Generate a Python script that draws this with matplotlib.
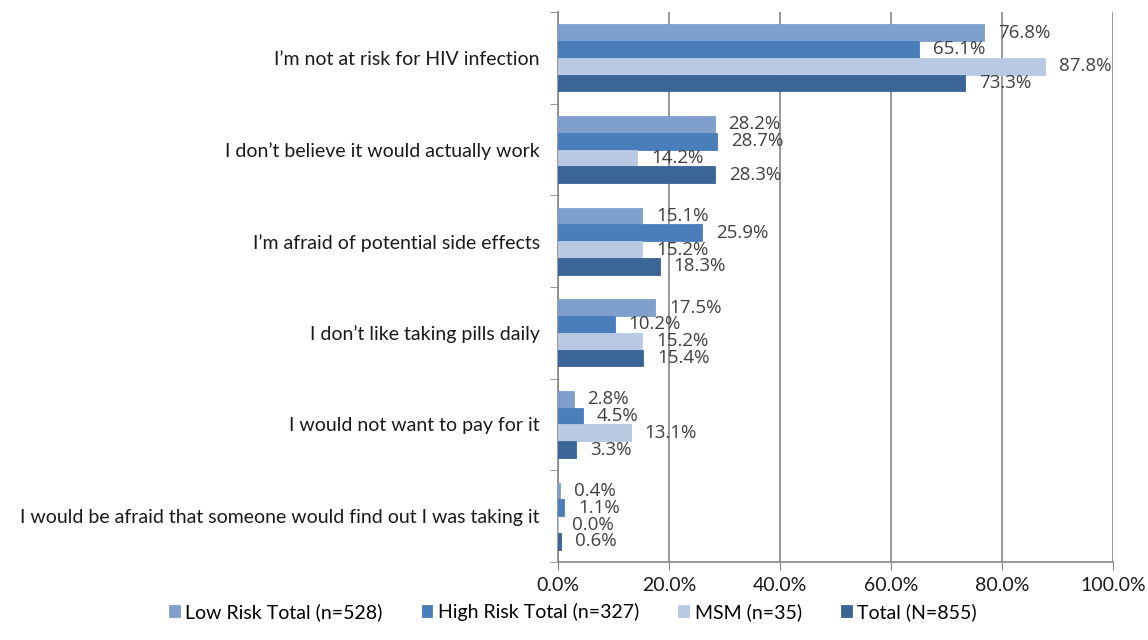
import numpy as np
import matplotlib.pyplot as plt
from matplotlib.ticker import FixedLocator

categories = [
    "I\u2019m not at risk for HIV infection",
    "I don\u2019t believe it would actually work",
    "I\u2019m afraid of potential side effects",
    "I don\u2019t like taking pills daily",
    "I would not want to pay for it",
    "I would be afraid that someone would find out I was taking it",
]
series_names = ["Low Risk Total (n=528)", "High Risk Total (n=327)",
                "MSM (n=35)", "Total (N=855)"]
low_risk = [76.8, 28.2, 15.1, 17.5, 2.8, 0.4]
high_risk = [65.1, 28.7, 25.9, 10.2, 4.5, 1.1]
msm = [87.8, 14.2, 15.2, 15.2, 13.1, 0.0]
total = [73.3, 28.3, 18.3, 15.4, 3.3, 0.6]
xticks = [0, 20, 40, 60, 80, 100]

colors = ["#7f9fcc", "#4a7ebb", "#b9c9e3", "#3b6497"]
values = [low_risk, high_risk, msm, total]

plt.rcParams['font.family'] = ['Lato', 'DejaVu Sans']

fig = plt.figure(figsize=(11.48, 6.4), dpi=100)
ax = fig.add_axes([558/1148, 1 - 562/640, (1113 - 558)/1148, (562 - 12)/640])

n = len(categories)
group = 0.73
bh = group / 4
ypos = np.arange(n)
for i, (vals, col, name) in enumerate(zip(values, colors, series_names)):
    y = ypos - group/2 + bh*(i + 0.5)
    ax.barh(y, vals, height=bh, color=col, edgecolor=col, linewidth=0.6,
            label=name, zorder=3)
    # value labels just right of each bar end
    for yy, v in zip(y, vals):
        ax.annotate(f"{v:.1f}%", (v, yy), xytext=(14, 0), textcoords="offset pixels",
                    ha="left", va="center", fontsize=13.5, color="#404040",
                    family=["Open Sans", "DejaVu Sans"], zorder=4)

ax.set_ylim(n - 0.5, -0.5)
ax.set_xlim(0, 100)
ax.set_yticks(ypos)
ax.set_yticklabels(categories, fontsize=14, color="#1a1a1a")
ax.tick_params(axis="y", length=0, pad=13)
ax.yaxis.set_minor_locator(FixedLocator(np.arange(n + 1) - 0.5))
ax.tick_params(axis="y", which="minor", length=6, color="#868686")
ax.set_xticks(xticks)
ax.set_xticklabels([f"{t:.1f}%" for t in xticks], fontsize=14, color="#1a1a1a")
ax.tick_params(axis="x", length=6, color="#868686", pad=5)
ax.grid(axis="x", color="#868686", linewidth=1.2, zorder=0)
for s in ["top", "right"]:
    ax.spines[s].set_visible(False)
for s in ["left", "bottom"]:
    ax.spines[s].set_color("#868686")
    ax.spines[s].set_linewidth(1.2)

fig.legend(loc="center", bbox_to_anchor=(573/1148, 1 - 612/640), ncol=4,
           frameon=False, fontsize=14, handlelength=0.55, handleheight=0.55,
           handletextpad=0.3, columnspacing=2.0)

fig.savefig("out.png", dpi=100)
